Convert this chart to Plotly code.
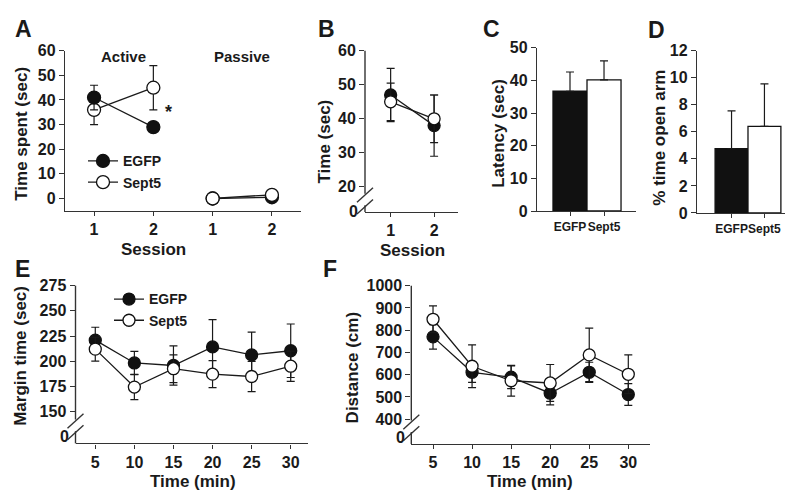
import plotly.graph_objects as go

W, H = 793, 492

# ---------------- data ----------------
groups = ["EGFP", "Sept5"]

# A: time spent, sessions (Active 1,2 / Passive 1,2)
a_session_labels = ["1", "2", "1", "2"]
a_active_x = [1, 2]
a_passive_x = [3, 4]
a_egfp_active = [41, 29]
a_egfp_active_err = [5, 1.5]
a_sept5_active = [36, 45]
a_sept5_active_err = [6, 9]
a_egfp_passive = [0, 0.5]
a_sept5_passive = [0, 1.5]

# B: time (sec) per session
b_sessions = [1, 2]
b_egfp = [47, 38]
b_egfp_err = [7.8, 9]
b_sept5 = [45, 40]
b_sept5_err = [5.5, 7]

# C: latency (sec)
c_latency = [36.7, 40.2]
c_latency_err = [5.9, 5.8]

# D: % time open arm
d_open_arm = [4.75, 6.4]
d_open_arm_err = [2.8, 3.15]

# E/F: time course
time_min = [5, 10, 15, 20, 25, 30]
e_egfp = [221, 198.4, 195.9, 214.3, 206.4, 210.5]
e_egfp_err = [12.8, 11.5, 19.4, 27, 22.6, 26.5]
e_sept5 = [212.1, 174.5, 192.7, 187.3, 185, 195.2]
e_sept5_err = [11.8, 12.5, 13.7, 13.4, 15, 15]
f_egfp = [770, 611, 589, 517, 611, 511]
f_egfp_err = [55, 45, 51, 52, 45, 49]
f_sept5 = [849, 638, 573, 563, 689, 602]
f_sept5_err = [60, 96, 69, 83, 120, 87]

# ---------------- styling ----------------
FONT = "Liberation Sans, Arial, sans-serif"
INK = "#1a1a1a"
AX = "#333333"
BLACK = "#111111"
TICK = 16
TITLE = 17


def px(x):
    return x / W


def py(y):
    return 1 - y / H


def edom(x0, x1, y0, y1):
    return [px(x0), px(x1)], [py(y1), py(y0)]


fig = go.Figure()


def ebar(arr, sym=True):
    d = dict(type="data", array=arr, color=INK, thickness=1.2, width=4, visible=True)
    if not sym:
        d["symmetric"] = False
        d["arrayminus"] = [0] * len(arr)
    return d


def line_trace(x, y, err, filled, xa, ya, name, size=12, legend=None, show=False):
    return go.Scatter(
        x=x, y=y, mode="lines+markers", name=name,
        xaxis=xa, yaxis=ya,
        line=dict(color=INK, width=1.3),
        marker=dict(size=size, color=BLACK if filled else "white",
                    line=dict(color=BLACK, width=1.3), symbol="circle"),
        error_y=ebar(err) if err is not None else None,
        showlegend=show, legend=legend,
    )


# A
fig.add_trace(line_trace(a_active_x, a_sept5_active, a_sept5_active_err, False, "x", "y", "Sept5", 13))
fig.add_trace(line_trace(a_active_x, a_egfp_active, a_egfp_active_err, True, "x", "y", "EGFP", 13,
                         legend="legend", show=True))
fig.add_trace(line_trace(a_passive_x, a_egfp_passive, None, True, "x", "y", "EGFP", 13))
fig.add_trace(line_trace(a_passive_x, a_sept5_passive, None, False, "x", "y", "Sept5", 13,
                         legend="legend", show=True))

# B
fig.add_trace(line_trace(b_sessions, b_egfp, b_egfp_err, True, "x2", "y2", "EGFP", 12))
fig.add_trace(line_trace(b_sessions, b_sept5, b_sept5_err, False, "x2", "y2", "Sept5", 12))

# C bars
for i, g in enumerate(groups):
    fig.add_trace(go.Bar(
        x=[i], y=[c_latency[i]], width=1.0, xaxis="x3", yaxis="y3",
        marker=dict(color=BLACK if i == 0 else "white", line=dict(color=BLACK, width=1.3)),
        error_y=ebar([c_latency_err[i]], sym=False), showlegend=False, name=g))
# D bars
for i, g in enumerate(groups):
    fig.add_trace(go.Bar(
        x=[i], y=[d_open_arm[i]], width=1.0, xaxis="x4", yaxis="y4",
        marker=dict(color=BLACK if i == 0 else "white", line=dict(color=BLACK, width=1.3)),
        error_y=ebar([d_open_arm_err[i]], sym=False), showlegend=False, name=g))

# E
fig.add_trace(line_trace(time_min, e_egfp, e_egfp_err, True, "x5", "y5", "EGFP", 12,
                         legend="legend2", show=True))
fig.add_trace(line_trace(time_min, e_sept5, e_sept5_err, False, "x5", "y5", "Sept5", 12,
                         legend="legend2", show=True))
# F
fig.add_trace(line_trace(time_min, f_egfp, f_egfp_err, True, "x6", "y6", "EGFP", 12))
fig.add_trace(line_trace(time_min, f_sept5, f_sept5_err, False, "x6", "y6", "Sept5", 12))

tickfont = dict(family=FONT, size=TICK, color=INK, weight="bold")


def xax(dom, rng, **kw):
    d = dict(domain=dom, range=rng, showline=True, linecolor=AX, linewidth=1.4,
             ticks="outside", ticklen=4, tickwidth=1.2, tickcolor=AX, tickangle=0,
             showgrid=False, zeroline=False, tickfont=tickfont, fixedrange=True)
    d.update(kw)
    return d


def yax(dom, rng, showline=True, **kw):
    d = dict(domain=dom, range=rng, showline=showline, linecolor=AX, linewidth=1.4,
             ticks="outside", ticklen=5, tickwidth=1.2, tickcolor=AX,
             showgrid=False, zeroline=False, tickfont=tickfont, fixedrange=True)
    d.update(kw)
    return d


# domains (pixel based)
xA, yA = edom(57, 293, 36, 201.5)
xB, yB = edom(357, 450, 36, 203)
xC, yC = edom(529, 628, 33, 202)
xD, yD = edom(689, 790, 36, 204)
xE, yE = edom(67.5, 300, 279.3, 442.7)
xF, yF = edom(403.3, 641.7, 279.3, 443.3)

small = dict(family=FONT, size=12, color=INK, weight="bold")
legfont = dict(family=FONT, size=14, color=INK, weight="bold")

layout = dict(
    width=W, height=H, margin=dict(l=0, r=0, t=0, b=0),
    paper_bgcolor="white", plot_bgcolor="white",
    font=dict(family=FONT, color=INK),
    barmode="overlay",
    xaxis=xax(xA, [0.51, 4.49], tickvals=[1, 2, 3, 4], ticktext=a_session_labels, anchor="y"),
    yaxis=yax(yA, [-4.9, 60], tickvals=[0, 10, 20, 30, 40, 50, 60], anchor="x"),
    xaxis2=xax(xB, [0.41, 2.55], tickvals=b_sessions, anchor="y2"),
    yaxis2=yax(yB, [12.62, 60], showline=False, tickvals=[20, 30, 40, 50, 60], anchor="x2"),
    xaxis3=xax(xC, [-0.97, 1.94], tickvals=[0, 1], ticktext=groups, anchor="y3",
               tickfont=small),
    yaxis3=yax(yC, [0, 50], tickvals=[0, 10, 20, 30, 40, 50], anchor="x3"),
    xaxis4=xax(xD, [-1.05, 2.02], tickvals=[0, 1], ticktext=groups, anchor="y4",
               tickfont=small),
    yaxis4=yax(yD, [0, 12], tickvals=[0, 2, 4, 6, 8, 10, 12], anchor="x4"),
    xaxis5=xax(xE, [2.47, 32.21], tickvals=time_min, anchor="y5"),
    yaxis5=yax(yE, [118.7, 275], showline=False, tickvals=[150, 175, 200, 225, 250, 275], anchor="x5"),
    xaxis6=xax(xF, [2.22, 32.74], tickvals=time_min, anchor="y6"),
    yaxis6=yax(yF, [289, 1000], showline=False,
               tickvals=[400, 500, 600, 700, 800, 900, 1000], anchor="x6"),
    legend=dict(x=px(75), y=py(134), xanchor="left", yanchor="top",
                font=legfont, bgcolor="rgba(0,0,0,0)", tracegroupgap=0, itemwidth=30,
                traceorder="normal"),
    legend2=dict(x=px(101), y=py(277), xanchor="left", yanchor="top",
                 font=legfont, bgcolor="rgba(0,0,0,0)", tracegroupgap=0, itemwidth=30,
                 traceorder="normal"),
)
fig.update_layout(**layout)

shapes = []


def seg(x0, y0, x1, y1, w=1.4):
    shapes.append(dict(type="line", xref="paper", yref="paper",
                       x0=px(x0), y0=py(y0), x1=px(x1), y1=py(y1),
                       line=dict(color=AX, width=w)))


# broken y-axes (B, E, F)
def broken_axis(xline, ytop, ybreak, ybottom):
    seg(xline, ytop, xline, ybreak)
    seg(xline, ybreak + 12, xline, ybottom)
    seg(xline - 8, ybreak + 9, xline + 8, ybreak - 6)
    seg(xline - 8, ybreak + 21, xline + 8, ybreak + 6)


broken_axis(357, 36, 184, 203)
broken_axis(67.5, 279.3, 418, 442.7)
broken_axis(403.3, 279.3, 419, 443.3)

anns = []


def ann(x, y, text, size=15, angle=0, xanchor="center", yanchor="middle", **kw):
    anns.append(dict(x=px(x), y=py(y), xref="paper", yref="paper", text=text,
                     showarrow=False, textangle=angle, xanchor=xanchor, yanchor=yanchor,
                     font=dict(family=FONT, size=size, color=INK, weight="bold"), **kw))


# panel letters
for lx, ly, t in [(15, 13, "A"), (318, 13, "B"), (483, 13, "C"), (648, 14, "D"),
                  (14, 262, "E"), (322, 262, "F")]:
    ann(lx, ly, t, size=23)

# axis titles
ann(14, 122, "Time spent (sec)", size=TITLE, angle=-90)
ann(317, 130, "Time (sec)", size=TITLE, angle=-90)
ann(491, 122, "Latency (sec)", size=TITLE, angle=-90)
ann(652, 126, "% time open arm", size=TITLE, angle=-90)
ann(13, 352, "Margin time (sec)", size=TITLE, angle=-90)
ann(344, 365, "Distance (cm)", size=TITLE, angle=-90)
ann(145, 242, "Session", size=TITLE)
ann(404, 243, "Session", size=TITLE)
ann(185, 482, "Time (min)", size=TITLE)
ann(522, 482, "Time (min)", size=TITLE)

# broken-axis zero labels
ann(352, 203, "0", size=TICK, xanchor="right")
ann(63, 436, "0", size=TICK, xanchor="right")
ann(399, 437, "0", size=TICK, xanchor="right")

# A annotations (data coords)
anns.append(dict(x=1.5, y=57.5, xref="x", yref="y", text="Active", showarrow=False,
                 font=dict(family=FONT, size=15, color=INK, weight="bold")))
anns.append(dict(x=3.5, y=57.5, xref="x", yref="y", text="Passive", showarrow=False,
                 font=dict(family=FONT, size=15, color=INK, weight="bold")))
anns.append(dict(x=2.26, y=35, xref="x", yref="y", text="*", showarrow=False,
                 font=dict(family=FONT, size=18, color=INK, weight="bold")))

fig.update_layout(shapes=shapes, annotations=anns)
fig.write_html("out.html")
